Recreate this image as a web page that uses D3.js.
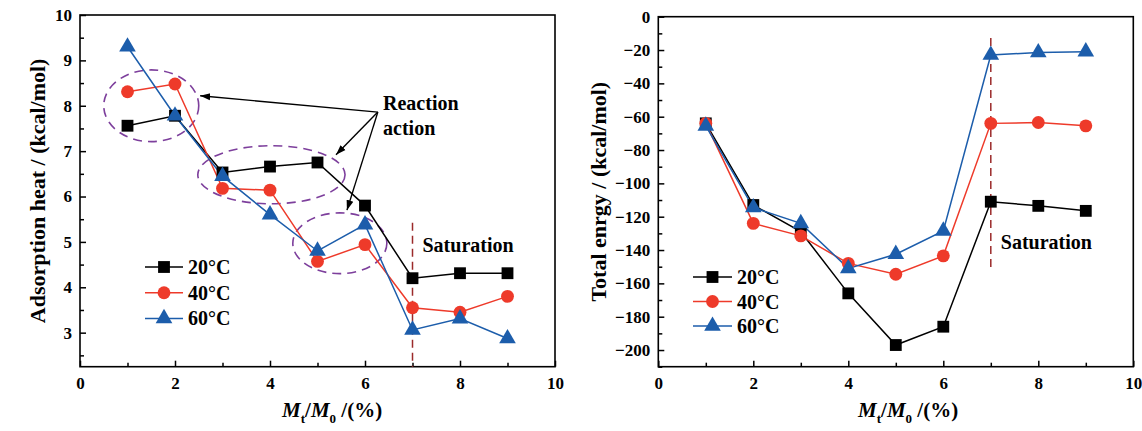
<!DOCTYPE html>
<html>
<head>
<meta charset="utf-8">
<script src="https://cdn.jsdelivr.net/npm/d3@7"></script>
<style>
  body { margin: 0; background: #fff; }
</style>
</head>
<body>
<svg id="chart" width="1142" height="431"></svg>
<script>
// Moisture content M_t/M_0 (%) at which each quantity was evaluated
const moisture = [1, 2, 3, 4, 5, 6, 7, 8, 9];
const seriesNames = ["20°C", "40°C", "60°C"];
const seriesColors = ["#000000", "#ee3a2a", "#1c5dab"];
const seriesSymbols = [d3.symbolSquare, d3.symbolCircle, d3.symbolTriangle];

// Adsorption heat (kcal/mol)
const heat20 = [7.56, 7.78, 6.53, 6.66, 6.75, 5.80, 4.20, 4.31, 4.31];
const heat40 = [8.31, 8.48, 6.18, 6.14, 4.57, 4.94, 3.55, 3.45, 3.80];
const heat60 = [9.30, 7.78, 6.45, 5.60, 4.80, 5.38, 3.06, 3.31, 2.87];

// Total energy (kcal/mol)
const energy20 = [-64, -113, -129, -166, -197, -186, -111, -113.5, -116.5];
const energy40 = [-64, -124, -131.5, -148, -154.5, -143.5, -64, -63.5, -65.5];
const energy60 = [-65.5, -114.5, -124, -151, -142.5, -128.5, -23, -21.5, -21];

// Axis ticks
const xTicks = [0, 2, 4, 6, 8, 10];
const xMinor = [1, 3, 5, 7, 9];
const heatTicks = [3, 4, 5, 6, 7, 8, 9, 10];
const heatMinor = [2.5, 3.5, 4.5, 5.5, 6.5, 7.5, 8.5, 9.5];
const energyTicks = [0, -20, -40, -60, -80, -100, -120, -140, -160, -180, -200];
const energyMinor = [-10, -30, -50, -70, -90, -110, -130, -150, -170, -190, -210];

const FONT = "'Liberation Serif'";
const svg = d3.select("#chart");

function label(sel, size) {
  return sel.attr("font-family", null)
    .style("font-family", FONT).style("font-weight", "bold").style("font-size", size + "px")
    .style("fill", "#000");
}

function drawPanel(cfg) {
  const x = d3.scaleLinear().domain([0, 10]).range([cfg.left, cfg.right]);
  const y = d3.scaleLinear().domain(cfg.yDomain).range([cfg.bottom, cfg.top]);
  const g = svg.append("g");

  // axes with inward ticks
  g.append("g").attr("transform", `translate(0,${cfg.bottom})`)
    .call(d3.axisBottom(x).tickValues(xTicks).tickFormat(d3.format("d")).tickSize(-6).tickPadding(10));
  g.append("g").attr("transform", `translate(0,${cfg.bottom})`)
    .call(d3.axisBottom(x).tickValues(xMinor).tickFormat("").tickSize(-4));
  g.append("g").attr("transform", `translate(${cfg.left},0)`)
    .call(d3.axisLeft(y).tickValues(cfg.yTicks).tickFormat(d3.format("d")).tickSize(-6).tickPadding(8));
  g.append("g").attr("transform", `translate(${cfg.left},0)`)
    .call(d3.axisLeft(y).tickValues(cfg.yMinor).tickFormat("").tickSize(-4));
  g.selectAll(".domain").remove();
  g.selectAll("g").attr("font-family", null).attr("font-size", null);
  g.selectAll(".tick line").attr("stroke", "#000").attr("stroke-width", 1.5);
  label(g.selectAll(".tick text"), 17);

  // plot frame
  g.append("rect")
    .attr("x", cfg.left).attr("y", cfg.top)
    .attr("width", cfg.right - cfg.left).attr("height", cfg.bottom - cfg.top)
    .attr("fill", "none").attr("stroke", "#000").attr("stroke-width", 1.6);

  // saturation marker
  g.append("line")
    .attr("x1", x(7)).attr("x2", x(7))
    .attr("y1", y(cfg.satTop)).attr("y2", y(cfg.satBottom))
    .attr("stroke", "#9b2a2a").attr("stroke-width", 1.5)
    .attr("stroke-dasharray", "8,5");
  label(g.append("text"), 20).attr("x", x(cfg.satLabel[0])).attr("y", y(cfg.satLabel[1]))
    .attr("dominant-baseline", "central").text("Saturation");

  if (cfg.annotate) cfg.annotate(g, x, y);

  // series lines and markers
  const sizes = [140, 130, 120];
  cfg.series.forEach((vals, i) => {
    const pts = moisture.map((m, k) => [m, vals[k]]);
    g.append("path").datum(pts)
      .attr("fill", "none").attr("stroke", seriesColors[i]).attr("stroke-width", 1.5)
      .attr("d", d3.line().x(d => x(d[0])).y(d => y(d[1])));
  });
  cfg.series.forEach((vals, i) => {
    g.selectAll(null).data(moisture.map((m, k) => [m, vals[k]])).enter()
      .append("path")
      .attr("transform", d => `translate(${x(d[0])},${y(d[1])})`)
      .attr("d", d3.symbol().type(seriesSymbols[i]).size(sizes[i]))
      .attr("fill", seriesColors[i]);
  });

  // legend
  const L = cfg.legend;
  seriesNames.forEach((name, i) => {
    const ry = L.y + i * L.dy;
    g.append("line").attr("x1", L.x1).attr("x2", L.x2).attr("y1", ry).attr("y2", ry)
      .attr("stroke", seriesColors[i]).attr("stroke-width", 1.5);
    g.append("path").attr("transform", `translate(${(L.x1 + L.x2) / 2},${ry})`)
      .attr("d", d3.symbol().type(seriesSymbols[i]).size(sizes[i])).attr("fill", seriesColors[i]);
    label(g.append("text"), 20).attr("x", L.tx).attr("y", ry).attr("dominant-baseline", "central")
      .text(name);
  });

  // axis titles
  label(g.append("text"), 22)
    .attr("transform", `translate(${cfg.yTitleX},${(cfg.top + cfg.bottom) / 2}) rotate(-90)`)
    .attr("text-anchor", "middle").attr("dominant-baseline", "central")
    .text(cfg.yTitle);
  const xt = label(g.append("text"), 21).attr("x", cfg.xTitleX).attr("y", 417);
  xt.append("tspan").style("font-style", "italic").text("M");
  xt.append("tspan").attr("dy", 6).style("font-size", "13px").text("t");
  xt.append("tspan").attr("dy", -6).text("/");
  xt.append("tspan").style("font-style", "italic").text("M");
  xt.append("tspan").attr("dy", 6).style("font-size", "13px").text("0");
  xt.append("tspan").attr("dy", -6).text(" /(%)");
}

// dashed ellipses and arrows for the reaction regions
function reactionNotes(g, x, y) {
  const ellipses = [
    { cx: 1.5, cy: 8.0, rx: 1.0, ry: 0.79 },
    { cx: 4.03, cy: 6.48, rx: 1.55, ry: 0.64 },
    { cx: 5.47, cy: 4.97, rx: 0.99, ry: 0.67 }
  ];
  const kx = x(1) - x(0), ky = y(0) - y(1);
  ellipses.forEach(e => {
    g.append("ellipse")
      .attr("cx", x(e.cx)).attr("cy", y(e.cy))
      .attr("rx", e.rx * kx).attr("ry", e.ry * ky)
      .attr("fill", "none").attr("stroke", "#7d3f9c").attr("stroke-width", 1.6)
      .attr("stroke-dasharray", "9,6");
  });
  const defs = svg.append("defs");
  defs.append("marker").attr("id", "arrowHead")
    .attr("viewBox", "0 0 10 10").attr("refX", 10).attr("refY", 5)
    .attr("markerWidth", 10).attr("markerHeight", 10).attr("markerUnits", "userSpaceOnUse")
    .attr("orient", "auto")
    .append("path").attr("d", "M0,1.5 L10,5 L0,8.5 Z").attr("fill", "#000");
  const origin = [6.27, 7.86];
  const tips = [[2.53, 8.22], [5.39, 6.92], [5.62, 5.70]];
  tips.forEach(t => {
    g.append("line")
      .attr("x1", x(origin[0])).attr("y1", y(origin[1]))
      .attr("x2", x(t[0])).attr("y2", y(t[1]))
      .attr("stroke", "#000").attr("stroke-width", 1.4)
      .attr("marker-end", "url(#arrowHead)");
  });
  label(g.append("text"), 20).attr("x", x(6.38)).attr("y", y(8.05)).attr("dominant-baseline", "central")
    .text("Reaction");
  label(g.append("text"), 20).attr("x", x(6.38)).attr("y", y(7.52)).attr("dominant-baseline", "central")
    .text("action");
}

drawPanel({
  left: 80, right: 555, top: 15, bottom: 366.7,
  yDomain: [2.25, 10], yTicks: heatTicks, yMinor: heatMinor,
  series: [heat20, heat40, heat60],
  satTop: 5.42, satBottom: 2.25, satLabel: [7.21, 4.93],
  legend: { x1: 145, x2: 183, tx: 188, y: 267, dy: 25.7 },
  yTitle: "Adsorption heat / (kcal/mol)", yTitleX: 37, xTitleX: 282,
  annotate: reactionNotes
});

drawPanel({
  left: 658.3, right: 1133.3, top: 16.7, bottom: 366.7,
  yDomain: [-210, 0], yTicks: energyTicks, yMinor: energyMinor,
  series: [energy20, energy40, energy60],
  satTop: -12.8, satBottom: -150.2, satLabel: [7.21, -135],
  legend: { x1: 693, x2: 732, tx: 737, y: 277, dy: 24.5 },
  yTitle: "Total enrgy / (kcal/mol)", yTitleX: 598, xTitleX: 858
});
</script>
</body>
</html>
